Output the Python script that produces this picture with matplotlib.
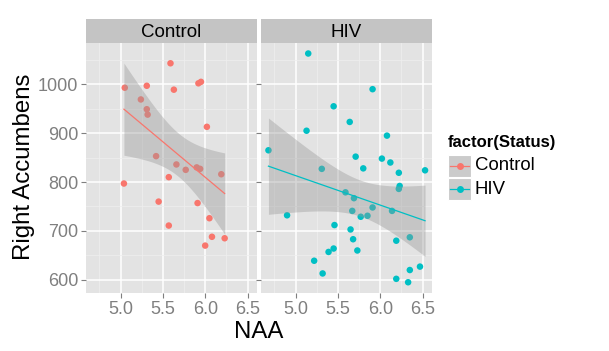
import matplotlib
matplotlib.use("Agg")
import matplotlib.pyplot as plt
import numpy as np
from matplotlib.lines import Line2D
from matplotlib.patches import Rectangle

plt.rcParams['font.family'] = ['Liberation Sans', 'DejaVu Sans']

# values
control_naa = [5.59, 5.05, 5.31, 5.63, 5.92, 5.95, 5.24, 5.31, 5.32, 6.02,
               5.42, 5.66, 5.77, 5.90, 5.94, 6.19, 5.57, 5.04, 5.45, 5.91,
               6.05, 5.57, 6.08, 6.23, 6.00]
control_acc = [1043, 993, 997, 989, 1002, 1005, 969, 949, 938, 913,
               853, 836, 825, 830, 827, 816, 810, 797, 760, 757,
               726, 711, 688, 685, 670]

hiv_naa = [5.15, 5.91, 5.45, 5.64, 5.13, 6.08, 4.68, 5.71, 6.02, 6.12,
           5.80, 5.31, 6.53, 6.22, 6.23, 6.22, 5.59, 5.69, 5.91, 5.67,
           6.14, 4.90, 5.77, 5.85, 5.46, 5.65, 5.68, 6.35, 6.19, 5.45,
           5.39, 5.73, 5.22, 5.32, 6.47, 6.35, 6.19, 6.33]
hiv_acc = [1063, 990, 955, 923, 905, 895, 865, 852, 848, 840,
           828, 827, 824, 819, 792, 786, 779, 767, 748, 741,
           741, 732, 729, 731, 712, 703, 683, 687, 680, 664,
           657, 660, 639, 613, 627, 620, 602, 595]

groups = ["Control", "HIV"]
data = {"Control": (control_naa, control_acc), "HIV": (hiv_naa, hiv_acc)}
colors = {"Control": "#F8766D", "HIV": "#00BFC4"}
t975 = {"Control": 2.069, "HIV": 2.028}  # t quantiles for n-2 df

W, H = 609, 351
fig = plt.figure(figsize=(W / 100, H / 100), dpi=100)
fig.patch.set_facecolor('white')

panel_left = [86, 261]
panel_w = 171
top, bottom = 43, 293
strip_top = 19

for i, g in enumerate(groups):
    x = np.array(data[g][0])
    y = np.array(data[g][1])
    ax = fig.add_axes([panel_left[i] / W, 1 - bottom / H, panel_w / W, (bottom - top) / H])
    ax.set_facecolor('#E3E3E3')
    ax.set_xlim(4.592, 6.612)
    ax.set_ylim(573, 1084.5)
    ax.set_xticks([5.0, 5.5, 6.0, 6.5])
    ax.set_xticks([4.75, 5.25, 5.75, 6.25], minor=True)
    ax.set_yticks([600, 700, 800, 900, 1000])
    ax.set_yticks([650, 750, 850, 950, 1050], minor=True)
    ax.grid(which='major', color='white', lw=1.1)
    ax.grid(which='minor', color='#EFEFEF', lw=0.5)
    ax.set_axisbelow(True)
    for s in ax.spines.values():
        s.set_visible(False)
    ax.tick_params(which='major', length=3.5, width=0.8, color='#7F7F7F',
                   labelcolor='#7F7F7F', labelsize=13, pad=2)
    ax.tick_params(which='minor', length=0)
    if i > 0:
        ax.tick_params(axis='y', labelleft=False)

    ax.scatter(x, y, s=22, color=colors[g], edgecolors='none', zorder=3)

    # linear fit with 95% band
    n = len(x)
    b, a = np.polyfit(x, y, 1)
    resid = y - (a + b * x)
    s_err = np.sqrt(np.sum(resid ** 2) / (n - 2))
    xs = np.linspace(x.min(), x.max(), 80)
    fit = a + b * xs
    se = s_err * np.sqrt(1 / n + (xs - x.mean()) ** 2 / np.sum((x - x.mean()) ** 2))
    ax.fill_between(xs, fit - t975[g] * se, fit + t975[g] * se,
                    color='#999999', alpha=0.4, lw=0, zorder=4)
    ax.plot(xs, fit, color=colors[g], lw=0.9, zorder=5)

    # facet strip
    sax = fig.add_axes([panel_left[i] / W, 1 - top / H, panel_w / W, (top - strip_top) / H])
    sax.set_facecolor('#C4C4C4')
    sax.set_xticks([])
    sax.set_yticks([])
    for s in sax.spines.values():
        s.set_visible(False)
    sax.text(0.5, 0.45, g, ha='center', va='center', fontsize=13.5, color='black',
             transform=sax.transAxes)

fig.text(24 / W, 1 - 167 / H, "Right Accumbens", rotation=90, ha='center', va='center',
         fontsize=17.3, color='black')
fig.text(259 / W, 1 - 338 / H, "NAA", ha='center', va='baseline', fontsize=17.3, color='black')

# legend
fig.text(448 / W, 1 - 143 / H, "factor(Status)", ha='left', va='center', fontsize=12,
         fontweight='bold', color='black')
for k, g in enumerate(groups):
    ky = 155 + k * 23
    fig.patches.append(Rectangle((448 / W, 1 - (ky + 22) / H), 23 / W, 22 / H,
                                 transform=fig.transFigure, facecolor='#CBCBCB',
                                 edgecolor='white', lw=0.8))
    cy = 1 - (ky + 11) / H
    fig.lines.append(Line2D([450 / W, 469 / W], [cy, cy], transform=fig.transFigure,
                            color=colors[g], lw=0.9))
    fig.lines.append(Line2D([459.5 / W], [cy], transform=fig.transFigure,
                            marker='o', markersize=5, color=colors[g], markeredgewidth=0))
    fig.text(475 / W, cy, g, ha='left', va='center', fontsize=13.4, color='black')

fig.savefig("out.png", dpi=100)
